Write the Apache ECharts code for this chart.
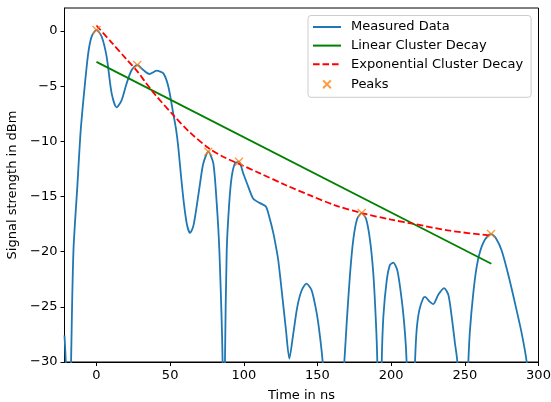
<!DOCTYPE html>
<html><head><meta charset="utf-8">
<script src="https://cdn.jsdelivr.net/npm/echarts@6/dist/echarts.min.js"></script>
<style>html,body{margin:0;padding:0;background:#fff}#c{width:551px;height:402px}</style>
</head><body><div id="c"></div>
<script>
// Measured data (values below -30 dBm are clipped by the axis)
const measuredTime = [-21.7,-20.7,-19,-17.3,-16.5,-15.5,-13,-10.7,-7.8,-5.6,-3.3,0,3.5,6.9,10.3,13.7,17.1,20.5,23.9,27.7,31.8,35.9,40.8,45.4,48.8,52.1,54,55.5,57.5,59.5,61.5,63.5,65.7,68,70.3,72.5,75.9,79.3,81.6,83.4,85.6,86.4,87.2,88.4,90.1,91.8,94,96.7,99.6,103,106.4,111,115,117.8,120,122.3,123.4,125.7,128.6,130.9,133.6,136.3,139.3,142.5,146,149.5,151.7,153.5,160,168.2,169.8,172.1,174.3,177,180,182.9,185.6,187.9,189.7,190.6,192,193.6,194.7,197,199.2,201.5,204.2,207.2,209.4,210.5,213.3,216.2,217.3,219.1,221.8,223,225.9,228.6,232,235.9,238.8,241.1,243.3,244.9,248.5,252.4,253.5,255.7,258,260.3,263.7,267.8,271.2,275,279.5,284.1,288.6,292,296,300];
const measuredSignal = [-27.6,-30.5,-42,-30.5,-24.5,-19.5,-14.1,-9.0,-4.74,-2.02,-0.51,0.09,-0.5,-2.33,-5.65,-6.92,-6.26,-4.74,-3.54,-3.08,-3.54,-3.9,-3.6,-3.84,-5.05,-7.46,-8.9,-10.5,-13.3,-15.8,-17.6,-18.3,-17.7,-15.9,-13.8,-12.0,-10.94,-12.0,-15.6,-19.9,-30,-45,-30,-19.9,-15.6,-13.2,-12.0,-11.85,-12.9,-14.1,-15.2,-15.6,-15.9,-17.1,-18.3,-19.9,-20.8,-23.5,-27.1,-29.7,-27.4,-25.0,-23.5,-22.9,-23.5,-25.6,-27.7,-30,-45,-30,-26.5,-22.0,-18.9,-17.0,-16.5,-17.0,-18.9,-22.0,-26.5,-30,-42,-30,-25.9,-22.6,-21.2,-21.0,-21.7,-24.4,-27.4,-30,-42,-30,-27.1,-25.3,-24.2,-24.1,-24.5,-24.75,-23.9,-23.3,-23.9,-25.9,-28.3,-30,-45,-30,-27.1,-23.8,-21.4,-20.0,-18.9,-18.4,-18.8,-19.9,-22.1,-24.7,-27.4,-30,-35,-40];
const linearTime = [0, 268];
const linearSignal = [-2.8, -21.1];
const expTime = [0,10,20,28,33,40,52,63.5,76,86,96,111,129,145,162,180,200,216,240,268];
const expSignal = [0.5,-1.0,-2.5,-3.7,-4.6,-5.8,-7.6,-9.2,-10.6,-11.4,-12.0,-12.9,-14.0,-14.9,-15.8,-16.5,-17.1,-17.5,-18.1,-18.55];
const peakTime = [0, 27.7, 75.9, 96.7, 180, 267.8];
const peakSignal = [0.09, -3.08, -10.94, -11.85, -16.5, -18.4];
const xTicks = [0, 50, 100, 150, 200, 250, 300];
const yTicks = [-30, -25, -20, -15, -10, -5, 0];

const zip = (a, b) => a.map((v, i) => [v, b[i]]);
const FONT = 'DejaVu Sans';
const FS = 13;
const fmt = v => String(v).replace('-', '\u2212');
const NOFILL = 'rgba(0,0,0,0)';

const chart = echarts.init(document.getElementById('c'), null, {renderer: 'canvas'});
chart.setOption({
  animation: false,
  backgroundColor: '#fff',
  grid: {left: 64.5, right: 12.5, top: 8, bottom: 40, outerBoundsMode: 'none', containLabel: false,
         show: true, borderColor: '#000', borderWidth: 1, backgroundColor: 'transparent'},
  xAxis: {
    type: 'value', min: -21.7, max: 300,
    name: 'Time in ns', nameLocation: 'middle', nameGap: 27,
    nameTextStyle: {fontFamily: FONT, fontSize: FS, color: '#000'},
    axisLine: {show: true, onZero: false, lineStyle: {color: '#000', width: 1}},
    axisTick: {show: true, length: 4, inside: false, customValues: xTicks, lineStyle: {color: '#000', width: 1}},
    axisLabel: {customValues: xTicks, fontFamily: FONT, fontSize: FS, color: '#000', margin: 7, formatter: fmt},
    splitLine: {show: false}
  },
  yAxis: {
    type: 'value', min: -30, max: 2.085,
    name: 'Signal strength in dBm', nameLocation: 'middle', nameGap: 43,
    nameTextStyle: {fontFamily: FONT, fontSize: FS, color: '#000'},
    axisLine: {show: true, onZero: false, lineStyle: {color: '#000', width: 1}},
    axisTick: {show: true, length: 4, inside: false, customValues: yTicks, lineStyle: {color: '#000', width: 1}},
    axisLabel: {customValues: yTicks, fontFamily: FONT, fontSize: FS, color: '#000', margin: 7, formatter: fmt},
    splitLine: {show: false}
  },
  legend: {
    orient: 'vertical', left: 308, top: 15.5,
    padding: [5, 8, 5, 4], itemGap: 5.6, itemWidth: 28, itemHeight: 14,
    backgroundColor: 'rgba(255,255,255,0.8)', borderColor: '#ccc', borderWidth: 1, borderRadius: 3,
    textStyle: {fontFamily: FONT, fontSize: FS, color: '#000', padding: [0, 0, 0, 5]},
    data: ['Measured Data', 'Linear Cluster Decay', 'Exponential Cluster Decay',
      {name: 'Peaks', icon: 'path://M-4,-4M0,0L10,10M10,0L0,10M14,14'}]
  },
  series: [
    {name: 'Measured Data', type: 'line', data: zip(measuredTime, measuredSignal), symbol: 'none', smooth: 0.25, clip: true,
     lineStyle: {color: '#1f77b4', width: 1.8}, itemStyle: {color: NOFILL}, z: 2},
    {name: 'Linear Cluster Decay', type: 'line', data: zip(linearTime, linearSignal), symbol: 'none',
     lineStyle: {color: '#008000', width: 1.8}, itemStyle: {color: NOFILL}, z: 3},
    {name: 'Exponential Cluster Decay', type: 'line', data: zip(expTime, expSignal), symbol: 'none', smooth: 0.3,
     lineStyle: {color: '#ff0000', width: 1.8, type: [6.6, 2.9]}, itemStyle: {color: NOFILL}, z: 4},
    {name: 'Peaks', type: 'scatter', data: zip(peakTime, peakSignal), symbol: 'path://M0,0L10,10M10,0L0,10', symbolSize: 8,
     itemStyle: {color: '#ff7f0e', borderColor: '#ff7f0e', borderWidth: 1.3}, z: 5}
  ]
});
</script></body></html>
